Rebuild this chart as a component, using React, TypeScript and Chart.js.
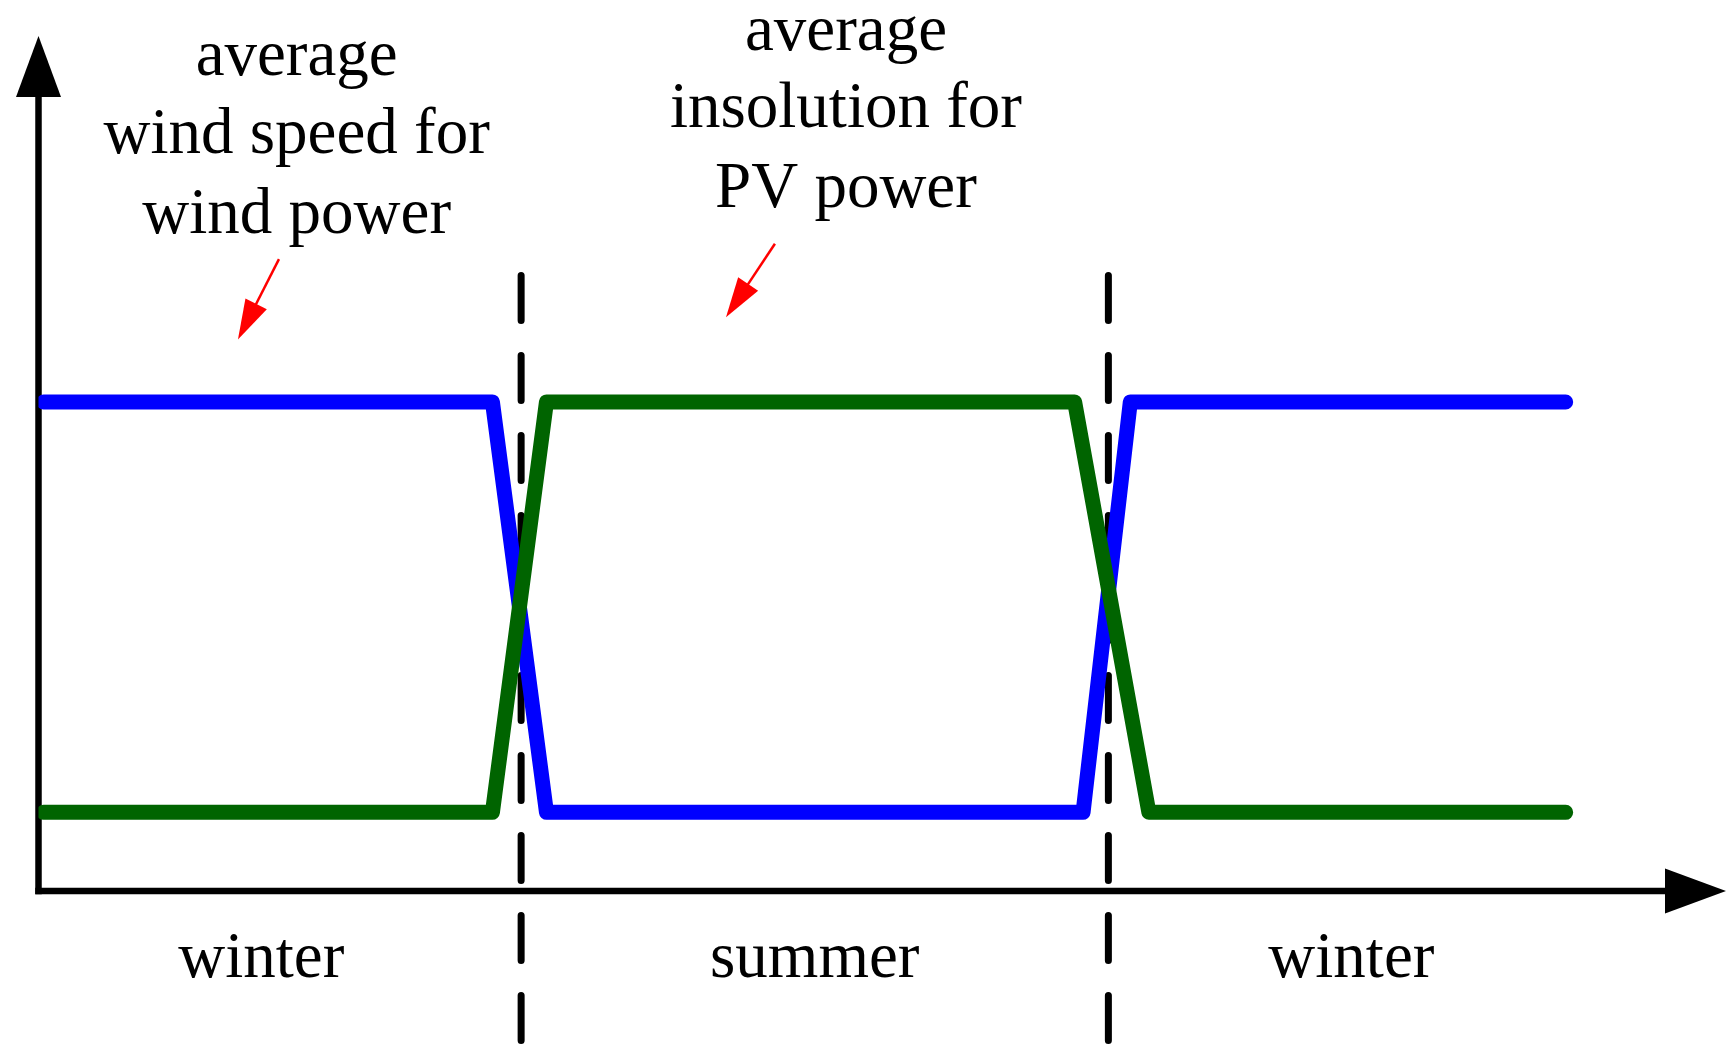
import React, { useEffect, useRef } from "react";
import { Chart, registerables } from "chart.js";

Chart.register(...registerables);

// ---- data (time axis 0..1000, level axis 0..100) ----
const windX = [3, 269, 301, 619, 647, 905];
const windY = [57.2, 57.2, 9.2, 9.2, 57.2, 57.2];
const pvX = [3, 269, 301, 614, 658, 905];
const pvY = [9.2, 9.2, 57.2, 57.2, 9.2, 9.2];
const seasonBoundaries = [286, 634];
const boundaryTopBottom = [72, -18.5];
const seasonLabels = ["winter", "summer", "winter"];
const seasonLabelX = [132, 460, 778];
const windNote = ["average", "wind speed for", "wind power"];
const pvNote = ["average", "insolution for", "PV power"];

// ---- layout (data coordinates) ----
const seasonLabelY = -10.1;
const windNoteX = 153;
const windNoteY = [95.4, 86.3, 77.0];
const pvNoteX = 478.5;
const pvNoteY = [98.4, 89.3, 80.0];
const windArrow = { from: [142.5, 73.9], to: [118.2, 64.5] };
const pvArrow = { from: [436.4, 75.7], to: [407.4, 67.1] };

const FONT = '65px "Liberation Serif", "Times New Roman", serif';

const decorPlugin = {
  id: "decor",
  beforeDatasetsDraw(chart: any) {
    const ctx = chart.ctx as CanvasRenderingContext2D;
    const { left, right, top, bottom } = chart.chartArea;
    ctx.save();
    ctx.strokeStyle = "#000";
    ctx.fillStyle = "#000";
    ctx.lineWidth = 6.5;
    ctx.lineCap = "butt";
    const headLen = 61;
    const headHalf = 22.5;
    // y axis
    ctx.beginPath();
    ctx.moveTo(left, bottom + 3.25);
    ctx.lineTo(left, top + headLen - 2);
    ctx.stroke();
    ctx.beginPath();
    ctx.moveTo(left, top);
    ctx.lineTo(left - headHalf, top + headLen);
    ctx.lineTo(left + headHalf, top + headLen);
    ctx.closePath();
    ctx.fill();
    // x axis
    ctx.beginPath();
    ctx.moveTo(left - 3.25, bottom);
    ctx.lineTo(right - headLen + 2, bottom);
    ctx.stroke();
    ctx.beginPath();
    ctx.moveTo(right, bottom);
    ctx.lineTo(right - headLen, bottom - headHalf);
    ctx.lineTo(right - headLen, bottom + headHalf);
    ctx.closePath();
    ctx.fill();
    ctx.restore();
  },
  afterDraw(chart: any) {
    const ctx = chart.ctx as CanvasRenderingContext2D;
    const xs = chart.scales.x;
    const ys = chart.scales.y;
    ctx.save();
    ctx.fillStyle = "#000";
    ctx.font = FONT;
    ctx.textAlign = "center";
    ctx.textBaseline = "alphabetic";
    seasonLabels.forEach((t, i) => {
      ctx.fillText(t, xs.getPixelForValue(seasonLabelX[i]), ys.getPixelForValue(seasonLabelY));
    });
    windNote.forEach((t, i) => {
      ctx.fillText(t, xs.getPixelForValue(windNoteX), ys.getPixelForValue(windNoteY[i]));
    });
    pvNote.forEach((t, i) => {
      ctx.fillText(t, xs.getPixelForValue(pvNoteX), ys.getPixelForValue(pvNoteY[i]));
    });
    // red arrows
    const drawArrow = (a: { from: number[]; to: number[] }) => {
      const x1 = xs.getPixelForValue(a.from[0]);
      const y1 = ys.getPixelForValue(a.from[1]);
      const x2 = xs.getPixelForValue(a.to[0]);
      const y2 = ys.getPixelForValue(a.to[1]);
      const dx = x2 - x1;
      const dy = y2 - y1;
      const len = Math.hypot(dx, dy);
      const ux = dx / len;
      const uy = dy / len;
      const hl = 40;
      const hw = 12;
      const bx = x2 - ux * hl;
      const by = y2 - uy * hl;
      ctx.strokeStyle = "#ff0000";
      ctx.fillStyle = "#ff0000";
      ctx.lineWidth = 2.5;
      ctx.beginPath();
      ctx.moveTo(x1, y1);
      ctx.lineTo(bx + ux * 4, by + uy * 4);
      ctx.stroke();
      ctx.beginPath();
      ctx.moveTo(x2, y2);
      ctx.lineTo(bx - uy * hw, by + ux * hw);
      ctx.lineTo(bx + uy * hw, by - ux * hw);
      ctx.closePath();
      ctx.fill();
    };
    drawArrow(windArrow);
    drawArrow(pvArrow);
    ctx.restore();
  },
};

export default function App() {
  const canvasRef = useRef<HTMLCanvasElement | null>(null);

  useEffect(() => {
    if (!canvasRef.current) return;
    const lineCommon = {
      pointRadius: 0,
      borderCapStyle: "round" as const,
      borderJoinStyle: "round" as const,
      tension: 0,
      fill: false,
    };
    const chart = new Chart(canvasRef.current, {
      type: "line",
      data: {
        datasets: [
          {
            label: "average insolution for PV power",
            data: pvX.map((x, i) => ({ x, y: pvY[i] })),
            borderColor: "#006400",
            borderWidth: 15,
            order: 1,
            ...lineCommon,
          },
          {
            label: "average wind speed for wind power",
            data: windX.map((x, i) => ({ x, y: windY[i] })),
            borderColor: "#0000ff",
            borderWidth: 15,
            order: 2,
            ...lineCommon,
          },
          ...seasonBoundaries.map((b) => ({
            label: "boundary",
            data: boundaryTopBottom.map((y) => ({ x: b, y })),
            borderColor: "#000000",
            borderWidth: 7,
            borderDash: [45, 35],
            order: 3,
            clip: false as any,
            ...lineCommon,
          })),
        ],
      },
      options: {
        animation: false,
        responsive: true,
        maintainAspectRatio: false,
        events: [],
        layout: { padding: { left: 38.5, right: 5, top: 36, bottom: 172 } },
        scales: {
          x: { type: "linear", min: 0, max: 1000, display: false },
          y: { type: "linear", min: 0, max: 100, display: false },
        },
        plugins: {
          legend: { display: false },
          tooltip: { enabled: false },
        },
      },
      plugins: [decorPlugin],
    });
    return () => chart.destroy();
  }, []);

  return (
    <div
      style={{
        position: "absolute",
        left: 0,
        top: 0,
        width: 1731,
        height: 1063,
        background: "#fff",
      }}
    >
      <canvas ref={canvasRef} style={{ display: "block" }} />
    </div>
  );
}
